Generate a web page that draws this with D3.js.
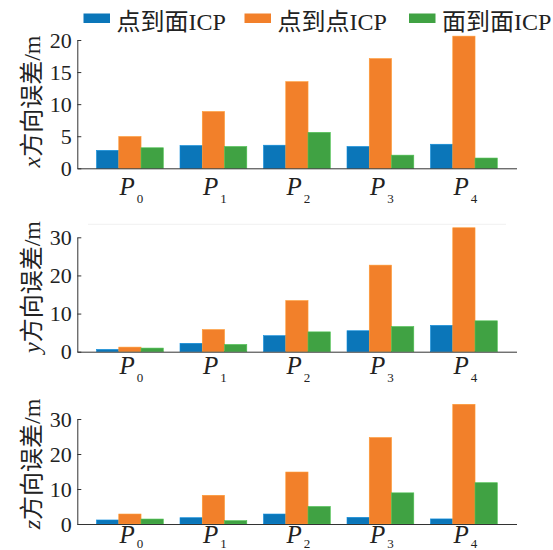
<!DOCTYPE html>
<html><head><meta charset="utf-8">
<script src="https://cdn.jsdelivr.net/npm/d3@7"></script>
<style>
body{margin:0;background:#fff;}
text{font-family:"Liberation Serif","Times New Roman","Noto Sans CJK SC",serif;fill:#222;}
</style></head>
<body>
<svg id="chart" width="553" height="550"></svg>
<script>
const categories = ["0","1","2","3","4"];
const series = ["点到面ICP","点到点ICP","面到面ICP"];
const colors = ["#0B76B9","#F2802A","#40A243"];
const xErr = [[2.8,3.55,3.6,3.4,3.75],[4.95,8.85,13.5,17.1,20.6],[3.2,3.4,5.6,2.05,1.6]];
const yErr = [[0.6,2.2,4.2,5.5,6.9],[1.2,5.8,13.4,22.7,32.5],[0.95,1.9,5.2,6.6,8.1]];
const zErr = [[1.15,1.8,2.85,1.9,1.45],[2.85,8.2,14.85,24.7,34.2],[1.42,0.95,5.0,8.9,11.8]];
const yLabels = ["x","y","z"];
const yTicksX = [0,5,10,15,20];
const yTicksYZ = [0,10,20,30];

const svg = d3.select("#chart");
const xL = 77.3, xR = 516.5;
const x0 = d3.scaleBand().domain(categories).range([xL,xR]).paddingInner(0.2).paddingOuter(0.23);
const x1 = d3.scaleBand().domain(series).range([0,x0.bandwidth()]);

const panels = [
  {data:xErr, max:20, ticks:yTicksX, bottom:168.3, top:40, lab:yLabels[0], labCy:101.5, pBase:195, sub:8},
  {data:yErr, max:30, ticks:yTicksYZ, bottom:351.7, top:237.3, lab:yLabels[1], labCy:287, pBase:373.5, sub:8},
  {data:zErr, max:30, ticks:yTicksYZ, bottom:524, top:419, lab:yLabels[2], labCy:464, pBase:543, sub:5}
];

panels.forEach((p,pi)=>{
  const y = d3.scaleLinear().domain([0,p.max]).range([p.bottom,p.top]);
  const g = svg.append("g");
  if(pi===1){
    g.append("line").attr("x1",88).attr("x2",506).attr("y1",224.3).attr("y2",224.3)
      .attr("stroke","#f0f0f0").attr("stroke-width",1);
  }
  series.forEach((s,si)=>{
    g.selectAll(null).data(p.data[si]).enter().append("rect")
      .attr("x",(d,i)=>x0(categories[i])+x1(s))
      .attr("width",x1.bandwidth())
      .attr("y",d=>y(d))
      .attr("height",d=>y(0)-y(d))
      .attr("fill",colors[si])
      .attr("stroke",d3.color(colors[si]).brighter(0.5))
      .attr("stroke-width",0.6);
  });
  const ax = d3.axisLeft(y).tickValues(p.ticks).tickSizeInner(-4).tickSizeOuter(0).tickPadding(5.6);
  const ag = g.append("g").attr("transform",`translate(${xL},0)`).call(ax);
  ag.selectAll("path,line").attr("stroke","#333").attr("stroke-width",1);
  ag.selectAll("text").attr("font-size",22).attr("font-family",'"Liberation Serif",serif').attr("fill","#222");
  const bx = d3.axisBottom(d3.scaleLinear().domain([0,1]).range([xL,xR])).tickValues([]).tickSizeOuter(0);
  const bg = g.append("g").attr("transform",`translate(0,${p.bottom})`).call(bx);
  bg.select("path").attr("stroke","#333").attr("stroke-width",1);
  categories.forEach(c=>{
    const t = g.append("text").attr("x",x0(c)+x0.bandwidth()/2+1.5).attr("y",p.pBase)
      .attr("text-anchor","middle").attr("font-size",25);
    t.append("tspan").attr("font-style","italic").text("P");
    t.append("tspan").attr("font-size",13).attr("dx",2).attr("dy",p.sub).text(c);
  });
  const yl = g.append("text").attr("transform",`translate(40,${p.labCy}) rotate(-90)`)
    .attr("text-anchor","middle").attr("font-size",24);
  yl.append("tspan").attr("font-style","italic").text(p.lab);
  yl.append("tspan").text("方向误差/m");
});

const legX = [83.5,244.5,409];
series.forEach((s,i)=>{
  svg.append("rect").attr("x",legX[i]).attr("y",13.5).attr("width",26.5).attr("height",9.5).attr("fill",colors[i]);
  svg.append("text").attr("x",legX[i]+33).attr("y",30).attr("font-size",24).text(s);
});
</script>
</body></html>
